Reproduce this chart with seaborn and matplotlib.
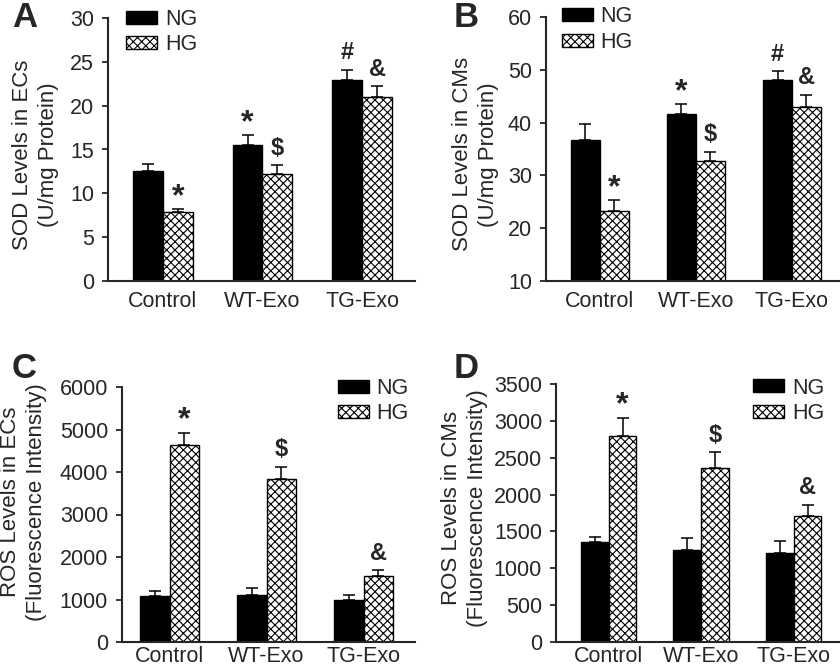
import numpy as np
import pandas as pd
import matplotlib
matplotlib.use("Agg")
import matplotlib.pyplot as plt
import seaborn as sns

sns.set_style("ticks")
plt.rcParams['font.family'] = ['Liberation Sans', 'DejaVu Sans']
plt.rcParams['hatch.linewidth'] = 0.8

groups = ["Control", "WT-Exo", "TG-Exo"]
conds = ["NG", "HG"]

# Panel A: SOD in ECs
a_ng = [12.5, 15.5, 22.9]
a_hg = [7.9, 12.2, 21.0]
a_ng_err = [0.9, 1.15, 1.2]
a_hg_err = [0.3, 1.0, 1.2]
a_ng_marks = ["", "*", "#"]
a_hg_marks = ["*", "$", "&"]

# Panel B: SOD in CMs
b_ng = [36.7, 41.6, 48.1]
b_hg = [23.3, 32.8, 42.9]
b_ng_err = [3.0, 1.9, 1.6]
b_hg_err = [2.0, 1.7, 2.4]
b_ng_marks = ["", "*", "#"]
b_hg_marks = ["*", "$", "&"]

# Panel C: ROS in ECs
c_ng = [1075, 1110, 995]
c_hg = [4630, 3835, 1550]
c_ng_err = [115, 155, 110]
c_hg_err = [290, 290, 135]
c_ng_marks = ["", "", ""]
c_hg_marks = ["*", "$", "&"]

# Panel D: ROS in CMs
d_ng = [1360, 1245, 1210]
d_hg = [2790, 2360, 1710]
d_ng_err = [60, 162, 158]
d_hg_err = [250, 212, 148]
d_ng_marks = ["", "", ""]
d_hg_marks = ["*", "$", "&"]

W, H = 840, 670
fig = plt.figure(figsize=(W / 100, H / 100), dpi=100)


def px_axes(left, right, top, bottom):
    return fig.add_axes([left / W, (H - bottom) / H, (right - left) / W, (bottom - top) / H])


def panel(ax, ng, hg, ng_err, hg_err, ng_marks, hg_marks, ylim, ystep, xlim, ylabel,
          label_x, label_y, legend_xy, letter, letter_xy, xpad=7, width=0.6):
    df = pd.DataFrame({
        "group": groups * 2,
        "cond": ["NG"] * 3 + ["HG"] * 3,
        "value": list(ng) + list(hg),
    })
    sns.barplot(data=df, x="group", y="value", hue="cond", order=groups, hue_order=conds,
                palette=["black", "white"], edgecolor="black", linewidth=1.0,
                width=width, errorbar=None, saturation=1, ax=ax, zorder=2)
    bars = list(ax.containers[:2])
    for p in bars[1]:
        p.set_hatch("xxxx")
    errs = [ng_err, hg_err]
    marks = [ng_marks, hg_marks]
    for ci, cont in enumerate(bars):
        xs = [p.get_x() + p.get_width() / 2 for p in cont]
        ys = [p.get_height() for p in cont]
        e = errs[ci]
        ax.errorbar(xs, ys, yerr=[np.zeros(3), e], fmt="none", ecolor="black",
                    elinewidth=1.1, capsize=4.5, capthick=1.1, zorder=3)
        for x, y, ee, m in zip(xs, ys, e, marks[ci]):
            if m:
                fs = 23 if m == "*" else 17
                off = -2 if m == "*" else 4
                ax.annotate(m, (x, y + ee), xytext=(0, off), textcoords="offset points",
                            ha="center", va="bottom", fontsize=fs, fontweight="bold")
    ax.set_ylim(*ylim)
    ax.set_yticks(np.arange(ylim[0], ylim[1] + ystep / 2, ystep))
    ax.set_xlim(*xlim)
    ax.set_xlabel("")
    ax.set_ylabel(ylabel, fontsize=16, linespacing=1.3)
    ax.yaxis.set_label_coords(label_x, label_y)
    sns.despine(ax=ax)
    for s in ["left", "bottom"]:
        ax.spines[s].set_linewidth(1.5)
    ax.tick_params(axis="y", direction="out", length=4, width=1.3, labelsize=15.5, pad=6)
    ax.tick_params(axis="x", length=0, labelsize=15.5, pad=xpad)
    if ax.get_legend() is not None:
        ax.get_legend().remove()
    ax.legend(bars, conds, loc="upper left", bbox_to_anchor=legend_xy,
              frameon=False, fontsize=15.5, handlelength=1.45, handleheight=0.55,
              handletextpad=0.35, labelspacing=0.2, borderpad=0, borderaxespad=0)
    fig.text(letter_xy[0] / W, 1 - letter_xy[1] / H, letter, fontsize=25, fontweight="bold",
             ha="left", va="top")


axA = px_axes(108, 415, 18, 281)
panel(axA, a_ng, a_hg, a_ng_err, a_hg_err, a_ng_marks, a_hg_marks, (0, 30), 5, (-0.55, 2.53),
      "SOD Levels in ECs\n(U/mg Protein)", -0.16, 0.48, (0.059, 1.035), "A", (12, 1))

axB = px_axes(546, 840, 17, 281)
panel(axB, b_ng, b_hg, b_ng_err, b_hg_err, b_ng_marks, b_hg_marks, (10, 60), 10, (-0.56, 2.5),
      "SOD Levels in CMs\n(U/mg Protein)", -0.16, 0.48, (0.053, 1.04), "B", (454, 1))

axC = px_axes(122, 415, 387, 642)
panel(axC, c_ng, c_hg, c_ng_err, c_hg_err, c_ng_marks, c_hg_marks, (0, 6000), 1000, (-0.49, 2.53),
      "ROS Levels in ECs\n(Fluorescence Intensity)", -0.256, 0.55, (0.737, 1.035), "C", (12, 352),
      xpad=3)

axD = px_axes(556, 840, 384, 642)
panel(axD, d_ng, d_hg, d_ng_err, d_hg_err, d_ng_marks, d_hg_marks, (0, 3500), 500, (-0.57, 2.5),
      "ROS Levels in CMs\n(Fluorescence Intensity)", -0.239, 0.52, (0.694, 1.025), "D", (454, 352),
      xpad=3)

fig.savefig("out.png", dpi=100)
